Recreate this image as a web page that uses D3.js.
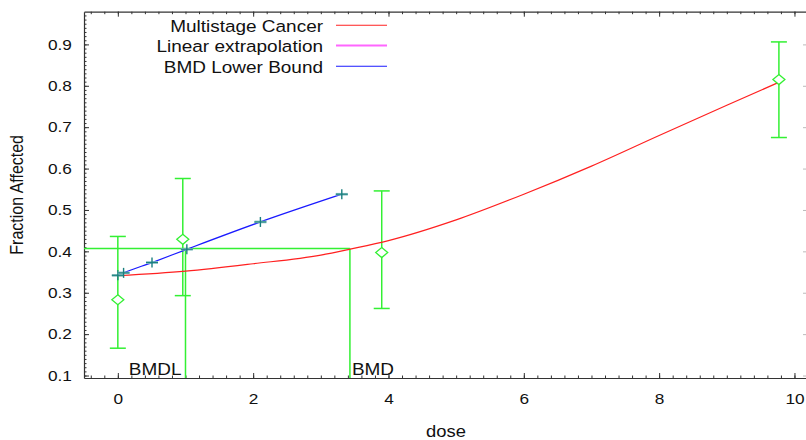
<!DOCTYPE html>
<html>
<head>
<meta charset="utf-8">
<script src="https://cdn.jsdelivr.net/npm/d3@7"></script>
<style>
  html, body { margin: 0; padding: 0; background: #fff; }
  svg { display: block; }
  text { font-family: "Liberation Sans", Arial, sans-serif; fill: #111; }
</style>
</head>
<body>
<svg id="chart" width="806" height="440"></svg>
<script>
// ---- data ----
const doseGroups = [0, 0.96, 3.9, 9.77];
const observed   = [0.283, 0.429, 0.397, 0.815];
const ciLower    = [0.166, 0.293, 0.262, 0.675];
const ciUpper    = [0.436, 0.576, 0.546, 0.906];

const modelDose = [0, 1, 2, 3, 3.45, 4, 5, 6, 7, 8, 9, 9.75];
const modelFrac = [0.341, 0.352, 0.370, 0.391, 0.406, 0.426, 0.476, 0.538, 0.606, 0.680, 0.753, 0.807];

const lowerBoundDose = [0, 0.085, 0.505, 1.02, 2.107, 3.31];
const lowerBoundFrac = [0.342, 0.348, 0.373, 0.405, 0.471, 0.538];

const bmrLevel = 0.407;
const bmdValue = 3.43;
const bmdlValue = 1.0;

const xTicks = [0, 2, 4, 6, 8, 10];
const yTicks = [0.1, 0.2, 0.3, 0.4, 0.5, 0.6, 0.7, 0.8, 0.9];
const legendLabels = ["Multistage Cancer", "Linear extrapolation", "BMD Lower Bound"];
const legendColors = ["#ff2020", "#ff66ff", "#1a1aff"];

(function () {
// ---- layout ----
const svg = d3.select("#chart");
const pLeft = 84, pRight = 808, pTop = 11.7, pBottom = 378;
const SX = 1.15; // horizontal text stretch seen in the reference

const x = d3.scaleLinear().domain([-0.5, 10.2]).range([pLeft, pRight]);
const y = d3.scaleLinear().domain([0.094, 0.979]).range([pBottom, pTop]);

const axisColor = "#333";
const green = "#33f033";

function stretchText(g, tx, ty, str, size, anchor) {
  return g.append("text")
    .attr("transform", `translate(${tx},${ty}) scale(${SX},1)`)
    .attr("text-anchor", anchor)
    .style("font-size", size + "px")
    .text(str);
}

const xMinor = d3.range(-0.4, 10.21, 0.2).map(v => +v.toFixed(2));
const yMinor = d3.range(0.10, 0.975, 0.01).map(v => +v.toFixed(2));

function styleAxis(g) {
  g.select(".domain").attr("stroke", axisColor).attr("stroke-width", 1.2);
  g.selectAll(".tick line").attr("stroke", axisColor).attr("stroke-width", 1);
}
function minorStyle(g) {
  g.select(".domain").remove();
  g.selectAll(".tick line").attr("stroke", axisColor);
}

// bottom
const gB = svg.append("g").attr("transform", `translate(0,${pBottom})`)
  .call(d3.axisBottom(x).tickValues(xTicks).tickFormat(d3.format("d")).tickSizeInner(-5).tickSizeOuter(0).tickPadding(15));
styleAxis(gB);
gB.selectAll(".tick text").attr("transform", `scale(${SX},1)`).style("font-size", "15px").attr("fill", "#111");
svg.append("g").attr("transform", `translate(0,${pBottom})`)
  .call(d3.axisBottom(x).tickValues(xMinor).tickFormat("").tickSizeInner(-2.5).tickSizeOuter(0))
  .call(minorStyle);

// top
const gT = svg.append("g").attr("transform", `translate(0,${pTop})`)
  .call(d3.axisTop(x).tickValues(xTicks).tickFormat("").tickSizeInner(-5).tickSizeOuter(0));
styleAxis(gT);
svg.append("g").attr("transform", `translate(0,${pTop})`)
  .call(d3.axisTop(x).tickValues(xMinor).tickFormat("").tickSizeInner(-2.5).tickSizeOuter(0))
  .call(minorStyle);

// left
const gL = svg.append("g").attr("transform", `translate(${pLeft},0)`)
  .call(d3.axisLeft(y).tickValues(yTicks).tickFormat(d3.format(".1f")).tickSizeInner(-5).tickSizeOuter(0).tickPadding(10.5));
styleAxis(gL);
gL.selectAll(".tick text").attr("transform", `scale(${SX},1)`).style("font-size", "15px").attr("fill", "#111");
svg.append("g").attr("transform", `translate(${pLeft},0)`)
  .call(d3.axisLeft(y).tickValues(yMinor).tickFormat("").tickSizeInner(-2.5).tickSizeOuter(0))
  .call(minorStyle);

// right (mostly off-canvas)
const gR = svg.append("g").attr("transform", `translate(${pRight},0)`)
  .call(d3.axisRight(y).tickValues(yTicks).tickFormat("").tickSizeInner(-5).tickSizeOuter(0));
styleAxis(gR);
gR.selectAll(".tick line").attr("stroke", "#bbb");

// axis titles
stretchText(svg, (pLeft + pRight) / 2, 437, "dose", 16, "middle");
svg.append("text")
  .attr("transform", `translate(17,${(pTop + pBottom) / 2}) rotate(-90) scale(1,${SX})`)
  .attr("text-anchor", "middle").attr("dy", "0.35em")
  .style("font-size", "16px")
  .text("Fraction Affected");

// BMD guide lines
const guide = svg.append("g").attr("stroke", green).attr("stroke-width", 1.5).attr("fill", "none");
guide.append("line").attr("x1", x(-0.5)).attr("x2", x(bmdValue)).attr("y1", y(bmrLevel)).attr("y2", y(bmrLevel));
guide.append("line").attr("x1", x(bmdValue)).attr("x2", x(bmdValue)).attr("y1", y(bmrLevel)).attr("y2", pBottom);
guide.append("line").attr("x1", x(bmdlValue)).attr("x2", x(bmdlValue)).attr("y1", y(bmrLevel)).attr("y2", pBottom);

stretchText(svg, x(bmdlValue) - 4, 375, "BMDL", 16.5, "end");
stretchText(svg, x(bmdValue) + 2, 375, "BMD", 16.5, "start");

// error bars
const eb = svg.append("g").attr("stroke", green).attr("stroke-width", 1.5);
doseGroups.forEach((d, i) => {
  const cx = x(d);
  eb.append("line").attr("x1", cx).attr("x2", cx).attr("y1", y(ciLower[i])).attr("y2", y(ciUpper[i]));
  eb.append("line").attr("x1", cx - 8).attr("x2", cx + 8).attr("y1", y(ciLower[i])).attr("y2", y(ciLower[i]));
  eb.append("line").attr("x1", cx - 8).attr("x2", cx + 8).attr("y1", y(ciUpper[i])).attr("y2", y(ciUpper[i]));
});

// model curve
const modelPts = modelDose.map((d, i) => [d, modelFrac[i]]);
svg.append("path")
  .attr("d", d3.line().x(p => x(p[0])).y(p => y(p[1])).curve(d3.curveMonotoneX)(modelPts))
  .attr("fill", "none").attr("stroke", "#ff2020").attr("stroke-width", 1.2);

// lower bound line
const lbPts = lowerBoundDose.map((d, i) => [d, lowerBoundFrac[i]]);
svg.append("path")
  .attr("d", d3.line().x(p => x(p[0])).y(p => y(p[1])).curve(d3.curveMonotoneX)(lbPts))
  .attr("fill", "none").attr("stroke", "#1a1aff").attr("stroke-width", 1.3);

// plus markers
const pm = svg.append("g");
lbPts.forEach(p => {
  const cx = x(p[0]), cy = y(p[1]);
  pm.append("line").attr("x1", cx - 6).attr("x2", cx + 6).attr("y1", cy).attr("y2", cy)
    .attr("stroke", "#7fbcbc").attr("stroke-width", 2.6);
  pm.append("line").attr("x1", cx - 6).attr("x2", cx + 6).attr("y1", cy).attr("y2", cy)
    .attr("stroke", "#1a7f7f").attr("stroke-width", 1);
  pm.append("line").attr("x1", cx).attr("x2", cx).attr("y1", cy - 5).attr("y2", cy + 5)
    .attr("stroke", "#1a7f7f").attr("stroke-width", 1.4);
});

// observed diamonds
const dm = svg.append("g");
doseGroups.forEach((d, i) => {
  const cx = x(d), cy = y(observed[i]);
  dm.append("path")
    .attr("d", `M${cx},${cy - 5}L${cx + 6},${cy}L${cx},${cy + 5}L${cx - 6},${cy}Z`)
    .attr("fill", "#fff").attr("stroke", green).attr("stroke-width", 1.3);
});

// legend
const lg = svg.append("g");
const rowBase = [31.7, 51.9, 72.5];
const rowLine = [25.3, 45.5, 66.3];
legendLabels.forEach((lab, i) => {
  stretchText(lg, 323, rowBase[i], lab, 16.5, "end");
  lg.append("line").attr("x1", 336).attr("x2", 387).attr("y1", rowLine[i]).attr("y2", rowLine[i])
    .attr("stroke", legendColors[i]).attr("stroke-width", i === 1 ? 2 : 1.1);
});
})();
</script>
</body>
</html>
